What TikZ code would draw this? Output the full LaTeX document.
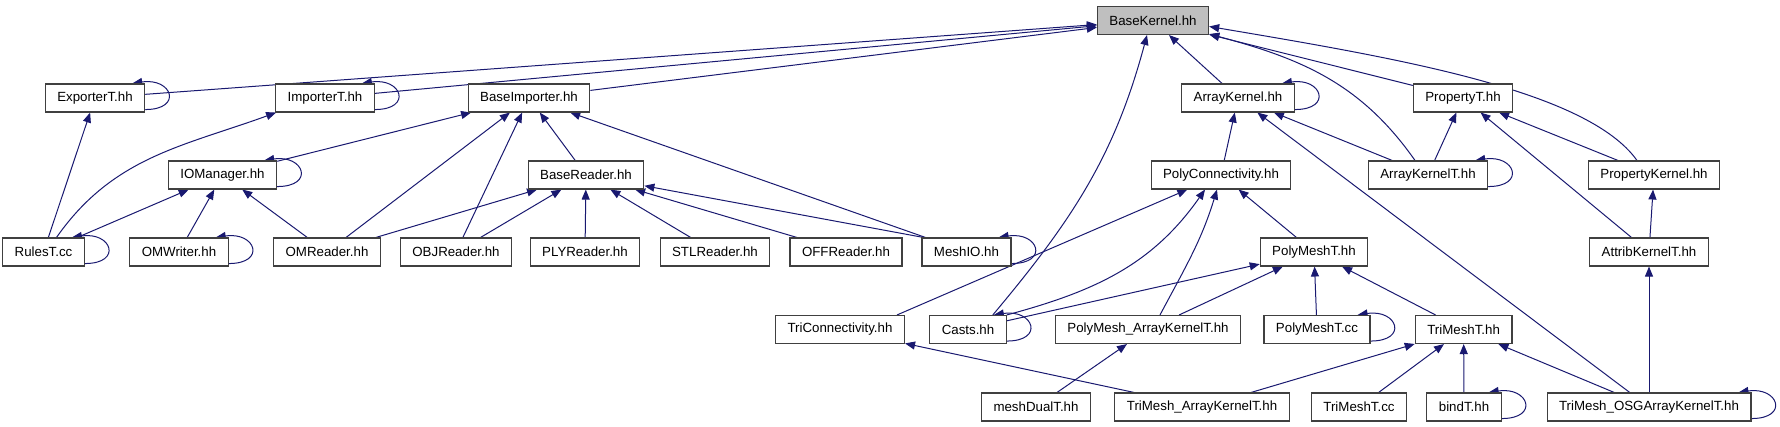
\documentclass[tikz,border=0pt]{standalone}
\usepackage{fontspec}
\setmainfont{Liberation Sans}
\usetikzlibrary{arrows.meta}

\definecolor{edgeblue}{HTML}{191970}
\definecolor{boxline}{HTML}{404040}
\definecolor{rootgray}{HTML}{BFBFBF}

\pgfdeclarelayer{edges}
\pgfsetlayers{edges,main}

% Self loop on the right of a file box
\newcommand{\includeloop}[1]{%
  \draw[edge] ([yshift=3pt]#1.south east) .. controls +(38,0) and +(40,-6) .. ([xshift=-13pt]#1.north east);}

\begin{document}
\begin{tikzpicture}[x=1pt,y=-1pt,
  file/.style={draw=boxline, line width=1.1pt, fill=white, inner xsep=12pt, inner ysep=0pt,
    minimum height=28pt, font=\fontsize{13.3}{15}\selectfont},
  rootfile/.style={file, fill=rootgray},
  edge/.style={draw=edgeblue, line width=1pt, -{Triangle[length=10pt,width=8pt]}}]
\useasboundingbox (0,0) rectangle (1780,427);
% Draw files, row by row
\node[rootfile] (BaseKernel) at (1153,20.5) {BaseKernel.hh};
\node[file] (ExporterT) at (95,98) {ExporterT.hh};
\node[file] (ImporterT) at (325,98) {ImporterT.hh};
\node[file] (BaseImporter) at (529,98) {BaseImporter.hh};
\node[file] (ArrayKernel) at (1238,98) {ArrayKernel.hh};
\node[file] (PropertyT) at (1463,98) {PropertyT.hh};
\node[file] (IOManager) at (222.5,175) {IOManager.hh};
\node[file] (BaseReader) at (586,175) {BaseReader.hh};
\node[file] (PolyConn) at (1221,175) {PolyConnectivity.hh};
\node[file] (ArrayKernelT) at (1428,175) {ArrayKernelT.hh};
\node[file] (PropertyKernel) at (1654,175) {PropertyKernel.hh};
\node[file] (RulesT) at (43.5,252) {RulesT.cc};
\node[file] (OMWriter) at (179,252) {OMWriter.hh};
\node[file] (OMReader) at (327,252) {OMReader.hh};
\node[file] (OBJReader) at (456,252) {OBJReader.hh};
\node[file] (PLYReader) at (585,252) {PLYReader.hh};
\node[file] (STLReader) at (715,252) {STLReader.hh};
\node[file] (OFFReader) at (846,252) {OFFReader.hh};
\node[file] (MeshIO) at (966.5,252) {MeshIO.hh};
\node[file] (PolyMeshT) at (1314,252) {PolyMeshT.hh};
\node[file] (AttribKernelT) at (1649,252) {AttribKernelT.hh};
\node[file] (TriConn) at (840,329.5) {TriConnectivity.hh};
\node[file] (Casts) at (968,329.5) {Casts.hh};
\node[file] (PolyMeshAK) at (1148,329.5) {PolyMesh\_ArrayKernelT.hh};
\node[file] (PolyMeshTcc) at (1317,329.5) {PolyMeshT.cc};
\node[file] (TriMeshT) at (1463.6,329.5) {TriMeshT.hh};
\node[file] (meshDualT) at (1036,407) {meshDualT.hh};
\node[file] (TriMeshAK) at (1202,407) {TriMesh\_ArrayKernelT.hh};
\node[file] (TriMeshTcc) at (1359,407) {TriMeshT.cc};
\node[file] (bindT) at (1464,407) {bindT.hh};
\node[file] (TriMeshOSG) at (1649,407) {TriMesh\_OSGArrayKernelT.hh};
\begin{pgfonlayer}{edges}
% Draw includes of BaseKernel.hh
\draw[edge] (ExporterT) -- (BaseKernel);
\draw[edge] (ImporterT) -- (BaseKernel);
\draw[edge] (BaseImporter) -- (BaseKernel);
\draw[edge] ([xshift=-14pt]Casts.north east) to[out=50,in=-105] ([xshift=-6pt]BaseKernel.south);
\draw[edge] (ArrayKernel) -- (BaseKernel);
\draw[edge] ([xshift=-13pt]ArrayKernelT.north) to[out=125,in=-15] ([yshift=1pt]BaseKernel.south east);
\draw[edge] (PropertyT) -- (BaseKernel);
\draw[edge] ([xshift=-17pt]PropertyKernel.north) .. controls +(-50,-70) and +(190,32) .. ([yshift=-6pt]BaseKernel.east);
% Draw the IO side
\draw[edge] (RulesT) -- (ExporterT);
\draw[edge] ([xshift=13pt]RulesT.north) to[out=55,in=-160] ([xshift=1pt]ImporterT.south west);
\draw[edge] (RulesT) -- (IOManager);
\draw[edge] (IOManager) -- (BaseImporter);
\draw[edge] (OMReader) -- (BaseImporter);
\draw[edge] (OBJReader) -- (BaseImporter);
\draw[edge] (BaseReader) -- (BaseImporter);
\draw[edge] ([xshift=4pt]MeshIO.north west) -- (BaseImporter);
\draw[edge] (OMWriter) -- (IOManager);
\draw[edge] (OMReader) -- (IOManager);
\foreach \reader in {OMReader, OBJReader, PLYReader, STLReader, OFFReader}
  \draw[edge] (\reader) -- (BaseReader);
\draw[edge] ([xshift=2pt]MeshIO.north west) -- (BaseReader);
% Draw the kernel side
\draw[edge] (PolyConn) -- (ArrayKernel);
\draw[edge] (ArrayKernelT) -- (ArrayKernel);
\draw[edge] (TriMeshOSG) -- (ArrayKernel);
\draw[edge] (ArrayKernelT) -- (PropertyT);
\draw[edge] (PropertyKernel) -- (PropertyT);
\draw[edge] (AttribKernelT) -- (PropertyT);
\draw[edge] (AttribKernelT) -- (PropertyKernel);
\draw[edge] (TriMeshOSG) -- (AttribKernelT);
% Draw the mesh side
\draw[edge] ([xshift=-8pt]TriConn.north east) -- (PolyConn);
\draw[edge] (Casts.north east) to[out=15,in=-125] ([xshift=-16pt]PolyConn.south);
\draw[edge] ([xshift=12pt]PolyMeshAK.north) to[out=62,in=-107] ([xshift=-4pt]PolyConn.south);
\draw[edge] (PolyMeshT) -- (PolyConn);
\draw[edge] (Casts) -- (PolyMeshT);
\draw[edge] (PolyMeshAK) -- (PolyMeshT);
\draw[edge] (PolyMeshTcc) -- (PolyMeshT);
\draw[edge] (TriMeshT) -- (PolyMeshT);
\draw[edge] (TriMeshAK) -- (TriConn);
\draw[edge] (meshDualT) -- (PolyMeshAK);
\foreach \mesh in {TriMeshAK, TriMeshTcc, bindT, TriMeshOSG}
  \draw[edge] (\mesh) -- (TriMeshT);
% Draw self loops
\foreach \name in {ExporterT, ImporterT, IOManager, RulesT, OMWriter, MeshIO, ArrayKernel,
  ArrayKernelT, Casts, PolyMeshTcc, bindT, TriMeshOSG}
  {\includeloop{\name}}
\end{pgfonlayer}
\end{tikzpicture}
\end{document}
